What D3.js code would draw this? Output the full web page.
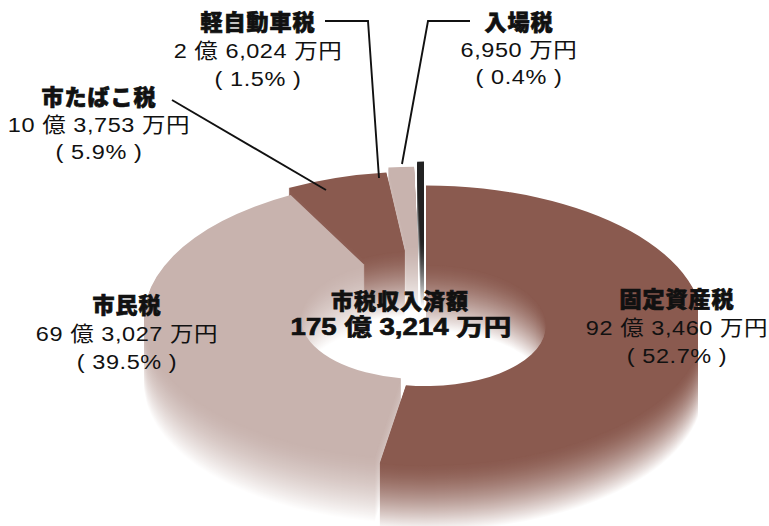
<!DOCTYPE html>
<html>
<head>
<meta charset="utf-8">
<script src="https://cdn.jsdelivr.net/npm/d3@7"></script>
<style>
  html, body { margin: 0; background: #fff; }
  text { font-family: "Liberation Sans", "Noto Sans CJK JP", sans-serif; fill: #111; }
  .name { font-family: "Noto Sans CJK JP", sans-serif; font-weight: 900; font-size: 22px; letter-spacing: 1px; stroke: #111; stroke-width: 0.7px; }
  .val { font-size: 21px; letter-spacing: 0.5px; }
  .total { font-family: "Liberation Sans", "Noto Sans CJK JP", sans-serif; font-weight: 700; font-size: 23px; stroke: #111; stroke-width: 0.7px; }
</style>
</head>
<body>
<div id="chart"></div>
<script>
// tax revenue, unit: 万円
const names = ["固定資産税", "市民税", "市たばこ税", "軽自動車税", "入場税"];
const amounts = [923460, 693027, 103753, 26024, 6950];
const shares = [52.7, 39.5, 5.9, 1.5, 0.4];
const totalName = "市税収入済額";
const sliceColors = ["#8a5a4f", "#c8b3ae", "#8a5a4f", "#c8b3ae", "#222222"];

const width = 769, height = 526;
const cx = 424, cy = 325.5, rOuter = 277, rInner = 120, tilt = 0.505;

// wall runs about 66px down, a bit longer at the cut right edge
const wallMid = 66, wallEdge = 86;
const wallDepth = u => u > 0 ? wallMid + (wallEdge - wallMid) * Math.pow(u, 8) : wallMid;
const wallStops = [0, 0.65, 0.8, 0.9, 0.97, 1];

// how far each slice is pulled out of the ring
const offsets = [[2, 0], [-3, -7], [-5, -14], [-3, -19], [0, -24]];

// label placement: x centre, baseline of first line
const labelPos = [[677, 307], [127, 313], [99, 105], [258, 30], [519, 30]];
const lineGap = [28, 28, 27, 28, 27];

const leaders = [
  [[172, 100], [326, 190]],
  [[325, 21], [368, 21], [379, 178]],
  [[470, 21], [428, 21], [402, 164]]
];

const svg = d3.select("#chart").append("svg")
  .attr("width", width)
  .attr("height", height)
  .style("display", "block");

const defs = svg.append("defs");
defs.append("clipPath").attr("id", "ring-clip")
  .append("rect").attr("x", 0).attr("y", 0).attr("width", 698).attr("height", height);

const pie = d3.pie().sort(null).value(d => d);
const arcs = pie(amounts);
const arc = d3.arc().innerRadius(rInner).outerRadius(rOuter);

const ring = svg.append("g").attr("clip-path", "url(#ring-clip)");

// one horizontal gradient per colour and wall level
function wallFill(color, k) {
  const id = `wall-${color.slice(1)}-${k}`;
  if (defs.select(`#${id}`).empty()) {
    const g = defs.append("linearGradient")
      .attr("id", id)
      .attr("gradientUnits", "userSpaceOnUse")
      .attr("x1", cx).attr("x2", cx + rOuter)
      .attr("y1", 0).attr("y2", 0);
    wallStops.forEach(u => {
      const t = Math.min(1, k / wallDepth(u));
      g.append("stop")
        .attr("offset", u)
        .attr("stop-color", d3.interpolateRgb(color, "#fff")(Math.pow(t, 1.5)));
    });
  }
  return `url(#${id})`;
}

// side walls: stack of shifted copies, far copy white, near copy full colour
for (let k = wallEdge; k > 0; k--) {
  ring.append("g").selectAll("path")
    .data(arcs)
    .enter().append("path")
    .attr("d", arc)
    .attr("transform", (d, i) => `translate(${cx + offsets[i][0]},${cy + offsets[i][1] + k}) scale(1,${tilt})`)
    .attr("fill", (d, i) => wallFill(sliceColors[i], k));
}

// top faces
ring.append("g").selectAll("path")
  .data(arcs)
  .enter().append("path")
  .attr("d", arc)
  .attr("transform", (d, i) => `translate(${cx + offsets[i][0]},${cy + offsets[i][1]}) scale(1,${tilt})`)
  .attr("fill", (d, i) => sliceColors[i]);

// leader lines
const line = d3.line();
svg.append("g").selectAll("path")
  .data(leaders)
  .enter().append("path")
  .attr("d", line)
  .attr("fill", "none")
  .attr("stroke", "#111")
  .attr("stroke-width", 1.9);

function yen(v) {
  const oku = Math.floor(v / 10000);
  const man = d3.format(",")(v % 10000);
  return oku > 0 ? `${oku} 億 ${man} 万円` : `${man} 万円`;
}

// labels, the number lines are stretched a little to get the wide look
const labels = svg.append("g").selectAll("g")
  .data(names)
  .enter().append("g")
  .attr("transform", (d, i) => `translate(${labelPos[i][0]},${labelPos[i][1]})`)
  .attr("text-anchor", "middle");

labels.append("text").attr("class", "name").text(d => d);
labels.append("text").attr("class", "val")
  .attr("transform", (d, i) => `translate(0,${lineGap[i]}) scale(1.12,1)`)
  .text((d, i) => yen(amounts[i]));
labels.append("text").attr("class", "val")
  .attr("transform", (d, i) => `translate(0,${lineGap[i] * 2}) scale(1.12,1)`)
  .text((d, i) => `( ${shares[i]}% )`);

// centre total
const total = d3.sum(amounts);
svg.append("text").attr("class", "name")
  .attr("x", 400).attr("y", 309)
  .attr("text-anchor", "middle")
  .text(totalName);
svg.append("text").attr("class", "total")
  .attr("transform", "translate(401,335) scale(1.2,1)")
  .attr("text-anchor", "middle")
  .text(yen(total));
</script>
</body>
</html>
